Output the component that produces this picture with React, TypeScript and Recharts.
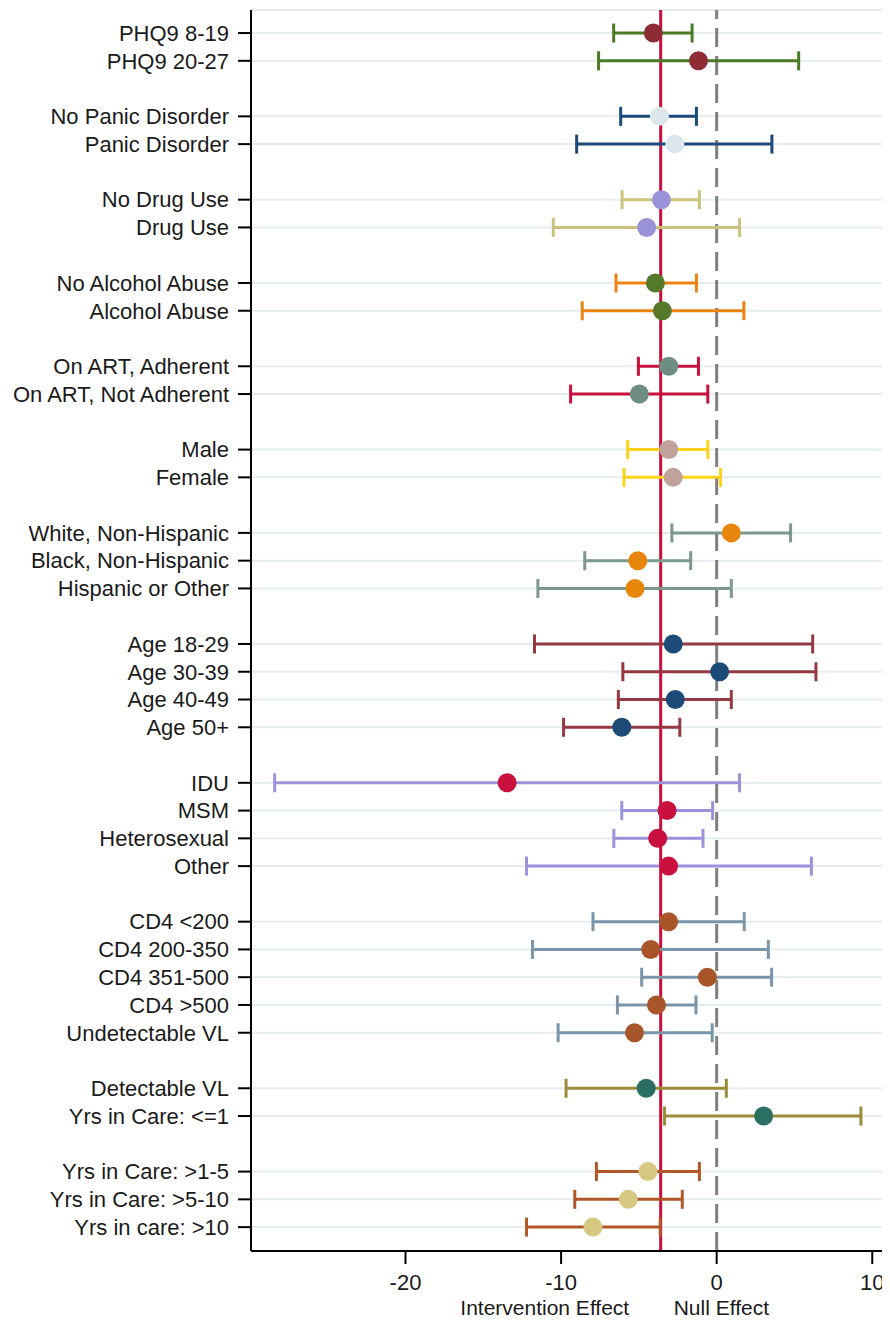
import React from 'react'
import {
  ScatterChart,
  Scatter,
  XAxis,
  YAxis,
  CartesianGrid,
  ReferenceLine,
  ErrorBar,
} from 'recharts'

// Row labels, top to bottom; '' marks a spacer row between groups
const categories = [
  'PHQ9 8-19', 'PHQ9 20-27', '',
  'No Panic Disorder', 'Panic Disorder', '',
  'No Drug Use', 'Drug Use', '',
  'No Alcohol Abuse', 'Alcohol Abuse', '',
  'On ART, Adherent', 'On ART, Not Adherent', '',
  'Male', 'Female', '',
  'White, Non-Hispanic', 'Black, Non-Hispanic', 'Hispanic or Other', '',
  'Age 18-29', 'Age 30-39', 'Age 40-49', 'Age 50+', '',
  'IDU', 'MSM', 'Heterosexual', 'Other', '',
  'CD4 <200', 'CD4 200-350', 'CD4 351-500', 'CD4 >500', 'Undetectable VL', '',
  'Detectable VL', 'Yrs in Care: <=1', '',
  'Yrs in Care: >1-5', 'Yrs in Care: >5-10', 'Yrs in care: >10',
]

const estimates = [
  -4.07, -1.17, null,
  -3.68, -2.69, null,
  -3.55, -4.5, null,
  -3.94, -3.49, null,
  -3.08, -4.97, null,
  -3.08, -2.8, null,
  0.94, -5.07, -5.25, null,
  -2.79, 0.19, -2.66, -6.1, null,
  -13.47, -3.19, -3.79, -3.09, null,
  -3.09, -4.24, -0.6, -3.87, -5.28, null,
  -4.53, 3.02, null,
  -4.42, -5.68, -7.95,
]

const lower = [
  -6.62, -7.59, null,
  -6.17, -9.0, null,
  -6.08, -10.5, null,
  -6.47, -8.64, null,
  -5.03, -9.39, null,
  -5.72, -5.96, null,
  -2.88, -8.48, -11.49, null,
  -11.71, -6.03, -6.32, -9.84, null,
  -28.41, -6.1, -6.61, -12.22, null,
  -7.95, -11.84, -4.82, -6.38, -10.19, null,
  -9.68, -3.35, null,
  -7.73, -9.12, -12.22,
]

const upper = [
  -1.58, 5.27, null,
  -1.3, 3.55, null,
  -1.11, 1.47, null,
  -1.3, 1.75, null,
  -1.17, -0.57, null,
  -0.57, 0.25, null,
  4.75, -1.67, 0.94, null,
  6.17, 6.38, 0.94, -2.37, null,
  1.47, -0.26, -0.88, 6.09, null,
  1.77, 3.32, 3.53, -1.33, -0.29, null,
  0.62, 9.27, null,
  -1.11, -2.21, -3.63,
]

const groups = [
  0, 0, null,
  1, 1, null,
  2, 2, null,
  3, 3, null,
  4, 4, null,
  5, 5, null,
  6, 6, 6, null,
  7, 7, 7, 7, null,
  8, 8, 8, 8, null,
  9, 9, 9, 9, 9, null,
  10, 10, null,
  11, 11, 11,
]

const ciColors = [
  '#4a7a23', '#1a4a7a', '#cdc27c', '#ea8411', '#c9113d', '#ffd21a',
  '#7b998c', '#943842', '#9b93d9', '#7a95a9', '#9d8b3a', '#b25628',
]
const dotColors = [
  '#8e2c36', '#dce7ec', '#9b93d9', '#55792b', '#6e8e83', '#c1a19b',
  '#e8860c', '#1b4b76', '#c9113d', '#a8552a', '#2b6f63', '#d5c880',
]

const pooledEffect = -3.6
const xTicks = [-20, -10, 0, 10]
const X_MIN = -29.93
const X_MAX = 11.14
const Y_MIN = -0.83
const Y_MAX = 43.86

const FONT = '"Liberation Sans", Arial, sans-serif'
const FONT_SIZE = 22

const rowTicks = categories
  .map((c, i) => (c ? i : -1))
  .filter((i) => i >= 0)

const groupData = ciColors.map((_, g) =>
  categories
    .map((name, i) => ({ name, i }))
    .filter(({ i }) => groups[i] === g)
    .map(({ name, i }) => ({
      name,
      row: i,
      est: estimates[i] as number,
      err: [
        (estimates[i] as number) - (lower[i] as number),
        (upper[i] as number) - (estimates[i] as number),
      ],
    }))
)

const AxisNotes = (props: any) => {
  const vb = props.viewBox || {}
  const x = vb.x ?? 0
  const y = vb.y ?? 0
  const width = vb.width ?? 0
  const toPx = (v: number) => x + ((v - X_MIN) / (X_MAX - X_MIN)) * width
  return (
    <g fontFamily={FONT} fontSize={21} fill="#1a1a1a">
      <text x={toPx(-11.05)} y={y + 64} textAnchor="middle">
        Intervention Effect
      </text>
      <text x={toPx(0.3)} y={y + 64} textAnchor="middle">
        Null Effect
      </text>
    </g>
  )
}

export default function App() {
  return (
    <div style={{ fontFamily: FONT }}>
      <ScatterChart
        width={882}
        height={1313}
        margin={{ top: 2, right: 0, bottom: 0, left: 0 }}
      >
        <CartesianGrid
          vertical={false}
          stroke="#e4edf1"
          strokeWidth={2}
        />
        <XAxis
          type="number"
          dataKey="est"
          domain={[X_MIN, X_MAX]}
          ticks={xTicks}
          allowDataOverflow
          height={70}
          tickSize={13}
          tickMargin={10}
          axisLine={{ stroke: '#000', strokeWidth: 2 }}
          tickLine={{ stroke: '#000', strokeWidth: 2 }}
          tick={{ fill: '#1a1a1a', fontSize: FONT_SIZE, fontFamily: FONT }}
          label={<AxisNotes />}
        />
        <YAxis
          type="number"
          dataKey="row"
          domain={[Y_MIN, Y_MAX]}
          ticks={rowTicks}
          reversed
          allowDataOverflow
          interval={0}
          width={243}
          tickSize={13}
          tickMargin={9}
          tickFormatter={(v: number) => categories[v] ?? ''}
          axisLine={{ stroke: '#000', strokeWidth: 2 }}
          tickLine={{ stroke: '#000', strokeWidth: 2 }}
          tick={{ fill: '#1a1a1a', fontSize: FONT_SIZE, fontFamily: FONT }}
        />
        <ReferenceLine
          x={0}
          stroke="#808080"
          strokeWidth={3}
          strokeDasharray="19 9"
        />
        <ReferenceLine x={pooledEffect} stroke="#cc0f3a" strokeWidth={3} />
        {groupData.map((data, g) => (
          <Scatter
            key={g}
            data={data}
            isAnimationActive={false}
            shape={(p: any) => (
              <circle cx={p.cx} cy={p.cy} r={9.5} fill={dotColors[g]} />
            )}
          >
            <ErrorBar
              dataKey="err"
              direction="x"
              width={9.5}
              stroke={ciColors[g]}
              strokeWidth={3}
              isAnimationActive={false}
            />
          </Scatter>
        ))}
      </ScatterChart>
    </div>
  )
}
